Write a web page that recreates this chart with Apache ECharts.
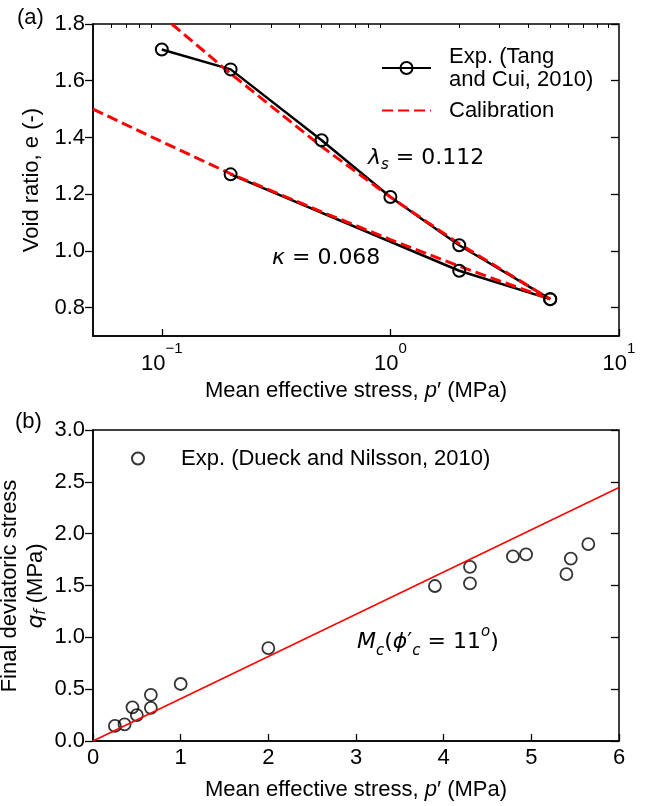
<!DOCTYPE html>
<html><head><meta charset="utf-8">
<script src="https://cdn.jsdelivr.net/npm/echarts@6/dist/echarts.min.js"></script>
<style>html,body{margin:0;padding:0;background:#fff}#c{width:651px;height:806px}</style>
</head><body><div id="c"></div>
<script>
// ---- Data: panel (a) ----
const pExpUpper = [0.1, 0.2, 0.5, 1, 2, 5];
const eExpUpper = [1.71, 1.64, 1.39, 1.19, 1.02, 0.83];
const pExpLower = [0.2, 2, 5];
const eExpLower = [1.27, 0.93, 0.83];
const pCalUpper = [0.1106, 0.2, 0.5, 1, 2, 5];
const eCalUpper = [1.80, 1.625, 1.368, 1.19, 1.025, 0.83];
const pCalLower = [0.05, 0.1, 0.2, 0.5, 1, 2, 5];
const eCalLower = [1.50, 1.385, 1.272, 1.138, 1.04, 0.946, 0.83];
const xMajorA = [0.1, 1, 10];
const xMinorA = [0.06, 0.07, 0.08, 0.09, 0.2, 0.3, 0.4, 0.5, 0.6, 0.7, 0.8, 0.9, 2, 3, 4, 5, 6, 7, 8, 9];
const yTicksA = [0.8, 1.0, 1.2, 1.4, 1.6, 1.8];
// ---- Data: panel (b) ----
const pDueck = [0.25, 0.36, 0.45, 0.50, 0.66, 0.66, 1.0, 2.0, 3.9, 4.3, 4.3, 4.79, 4.94, 5.45, 5.40, 5.65];
const qDueck = [0.145, 0.16, 0.325, 0.25, 0.445, 0.32, 0.55, 0.895, 1.495, 1.68, 1.52, 1.78, 1.80, 1.76, 1.61, 1.90];
const pMc = [0, 6];
const qMc = [0, 2.445];

const EXP_A = 'Exp. (Tang\nand Cui, 2010)';
const EXP_B = 'Exp. (Dueck and Nilsson, 2010)';
const CAL = 'Calibration';
const FF = "'Liberation Sans', Arial, sans-serif";
const MF = "'DejaVu Sans', sans-serif";
const zip = (a, b) => a.map((v, i) => [v, b[i]]);

const chart = echarts.init(document.getElementById('c'), null, {renderer: 'canvas'});
const axLine = {show: true, lineStyle: {color: '#000', width: 1.5}};
const tickLbl = {color: '#000', fontSize: 22, fontFamily: FF};
const hollow = {color: 'rgba(255,255,255,0)', borderColor: '#000', borderWidth: 2};

const option = {
  animation: false,
  backgroundColor: '#fff',
  grid: [
    {left: 93, right: 32, top: 24, height: 312, show: true, borderColor: '#000', borderWidth: 1.5, containLabel: false, outerBoundsMode: 'none'},
    {left: 93, right: 32, top: 430, height: 311, show: true, borderColor: '#000', borderWidth: 1.5, containLabel: false, outerBoundsMode: 'none'}
  ],
  xAxis: [
    {gridIndex: 0, type: 'log', logBase: 10, min: 0.05, max: 10,
     axisLine: axLine, splitLine: {show: false},
     axisTick: {inside: true, length: 7, lineStyle: {color: '#000', width: 1.3}, customValues: xMajorA},
     axisLabel: Object.assign({}, tickLbl, {margin: 5, customValues: xMajorA,
       formatter: v => '{b|10}{s|' + (Math.round(Math.log10(v)) < 0 ? '\u2212' : '') + Math.abs(Math.round(Math.log10(v))) + '}',
       rich: {b: {fontSize: 22, fontFamily: FF, color: '#000', lineHeight: 34, verticalAlign: 'bottom'},
              s: {fontSize: 15, fontFamily: FF, color: '#000', lineHeight: 6, verticalAlign: 'top'}}}),
     name: 'Mean effective stress, {i|p}\u2032 (MPa)', nameLocation: 'middle', nameGap: 42,
     nameTextStyle: {fontSize: 22, fontFamily: FF, color: '#000', lineHeight: 26,
       rich: {i: {fontSize: 22, fontFamily: FF, fontStyle: 'italic', color: '#000', lineHeight: 26}}}},
    {gridIndex: 0, type: 'log', logBase: 10, min: 0.05, max: 10,
     axisLine: {show: false}, splitLine: {show: false}, axisLabel: {show: false},
     axisTick: {inside: true, length: 4, lineStyle: {color: '#000', width: 1}, customValues: xMinorA}},
    {gridIndex: 1, type: 'value', min: 0, max: 6, interval: 1,
     axisLine: axLine, splitLine: {show: false},
     axisTick: {inside: true, length: 7, lineStyle: {color: '#000', width: 1.3}},
     axisLabel: Object.assign({}, tickLbl, {margin: 6}),
     name: 'Mean effective stress, {i|p}\u2032 (MPa)', nameLocation: 'middle', nameGap: 36,
     nameTextStyle: {fontSize: 22, fontFamily: FF, color: '#000', lineHeight: 26,
       rich: {i: {fontSize: 22, fontFamily: FF, fontStyle: 'italic', color: '#000', lineHeight: 26}}}}
  ],
  yAxis: [
    {gridIndex: 0, type: 'value', min: 0.7, max: 1.8,
     axisLine: axLine, splitLine: {show: false},
     axisTick: {inside: false, length: 8, lineStyle: {color: '#000', width: 1.3}, customValues: yTicksA},
     axisLabel: Object.assign({}, tickLbl, {margin: 8, customValues: yTicksA, formatter: v => v.toFixed(1)}),
     name: 'Void ratio, e (-)', nameLocation: 'middle', nameGap: 48,
     nameTextStyle: {fontSize: 22, fontFamily: FF, color: '#000', lineHeight: 24}},
    {gridIndex: 0, type: 'value', min: 0.7, max: 1.8,
     axisLine: {show: false}, splitLine: {show: false}, axisLabel: {show: false},
     axisTick: {inside: true, length: 8, lineStyle: {color: '#000', width: 1.3}, customValues: yTicksA}},
    {gridIndex: 1, type: 'value', min: 0, max: 3, interval: 0.5,
     axisLine: axLine, splitLine: {show: false},
     axisTick: {inside: false, length: 8, lineStyle: {color: '#000', width: 1.3}},
     axisLabel: Object.assign({}, tickLbl, {margin: 8, formatter: v => v.toFixed(1)})},
    {gridIndex: 1, type: 'value', min: 0, max: 3, interval: 0.5,
     axisLine: {show: false}, splitLine: {show: false}, axisLabel: {show: false},
     axisTick: {inside: true, length: 8, lineStyle: {color: '#000', width: 1.3}}}
  ],
  legend: [
    {data: [EXP_A, {name: CAL, itemStyle: {opacity: 0}}], orient: 'vertical', left: 381, top: 45, padding: 0,
     itemWidth: 49, itemHeight: 15, itemGap: 8,
     selectedMode: false, textStyle: {fontSize: 22, fontFamily: FF, color: '#000', lineHeight: 23, padding: [0, 0, 0, 13]}},
    {data: [EXP_B], orient: 'vertical', left: 131, top: 447, padding: 0, itemWidth: 12, itemHeight: 12,
     selectedMode: false, textStyle: {fontSize: 22, fontFamily: FF, color: '#000', lineHeight: 23, padding: [0, 0, 0, 32]}}
  ],
  series: [
    {name: EXP_A, type: 'line', xAxisIndex: 0, yAxisIndex: 0, data: zip(pExpUpper, eExpUpper),
     symbol: 'circle', symbolSize: 12, lineStyle: {color: '#000', width: 2.5}, itemStyle: hollow, silent: true},
    {name: EXP_A, type: 'line', xAxisIndex: 0, yAxisIndex: 0, data: zip(pExpLower, eExpLower),
     symbol: 'circle', symbolSize: 12, lineStyle: {color: '#000', width: 2.5}, itemStyle: hollow, silent: true},
    {name: CAL, type: 'line', xAxisIndex: 0, yAxisIndex: 0, data: zip(pCalUpper, eCalUpper),
     symbol: 'none', lineStyle: {color: '#ff0000', width: 3, type: [11, 5]}, itemStyle: {color: '#ff0000'}, silent: true},
    {name: CAL, type: 'line', xAxisIndex: 0, yAxisIndex: 0, data: zip(pCalLower, eCalLower),
     symbol: 'none', lineStyle: {color: '#ff0000', width: 3, type: [11, 5]}, itemStyle: {color: '#ff0000'}, silent: true},
    {name: 'Mc', type: 'line', xAxisIndex: 2, yAxisIndex: 2, data: zip(pMc, qMc),
     symbol: 'none', lineStyle: {color: '#ff0000', width: 1.5}, silent: true},
    {name: EXP_B, type: 'scatter', xAxisIndex: 2, yAxisIndex: 2, data: zip(pDueck, qDueck),
     symbol: 'circle', symbolSize: 12, itemStyle: {color: 'rgba(255,255,255,0)', borderColor: '#000', borderWidth: 1.8}, silent: true}
  ],
  graphic: [
    {type: 'text', x: 17, y: 18, style: {text: '(a)', fontSize: 22, fontFamily: FF, fill: '#000', verticalAlign: 'middle'}},
    {type: 'text', x: 15, y: 422, style: {text: '(b)', fontSize: 22, fontFamily: FF, fill: '#000', verticalAlign: 'middle'}},
    {type: 'text', x: 23, y: 586, rotation: Math.PI / 2,
     style: {text: '{n|Final deviatoric stress}\n{i|q}{sub|f}{n| (MPa)}', align: 'center', verticalAlign: 'middle',
      rich: {n: {fontSize: 22, fontFamily: FF, fill: '#000', lineHeight: 26, align: 'center'},
             i: {fontSize: 22, fontFamily: MF, fontStyle: 'italic', fill: '#000', lineHeight: 26},
             sub: {fontSize: 15, fontFamily: MF, fontStyle: 'italic', fill: '#000', lineHeight: 14, verticalAlign: 'bottom'}}}},
    {type: 'text', x: 368, y: 158, style: {text: '{i|\u03bb}{sub|s}{n| = 0.112}', verticalAlign: 'middle',
      rich: {i: {fontSize: 22, fontFamily: MF, fontStyle: 'italic', fill: '#000', lineHeight: 30},
             sub: {fontSize: 15, fontFamily: MF, fontStyle: 'italic', fill: '#000', lineHeight: 16, verticalAlign: 'bottom'},
             n: {fontSize: 22, fontFamily: MF, fill: '#000', lineHeight: 30}}}},
    {type: 'text', x: 272, y: 258, style: {text: '{i|\u03ba}{n| = 0.068}', verticalAlign: 'middle',
      rich: {i: {fontSize: 22, fontFamily: MF, fontStyle: 'italic', fill: '#000', lineHeight: 30},
             n: {fontSize: 22, fontFamily: MF, fill: '#000', lineHeight: 30}}}},
    {type: 'text', x: 357, y: 642, style: {text: '{i|M}{sub|c}{n|(}{i|\u03d5}{n|\u2032}{sub|c}{n| = 11}{sup|o}{n|)}', verticalAlign: 'middle',
      rich: {i: {fontSize: 22, fontFamily: MF, fontStyle: 'italic', fill: '#000', lineHeight: 34},
             sub: {fontSize: 15, fontFamily: MF, fontStyle: 'italic', fill: '#000', lineHeight: 18, verticalAlign: 'bottom'},
             sup: {fontSize: 15, fontFamily: MF, fontStyle: 'italic', fill: '#000', lineHeight: 14, verticalAlign: 'top'},
             n: {fontSize: 22, fontFamily: MF, fill: '#000', lineHeight: 34}}}}
  ]
};
chart.setOption(option);
</script></body></html>
